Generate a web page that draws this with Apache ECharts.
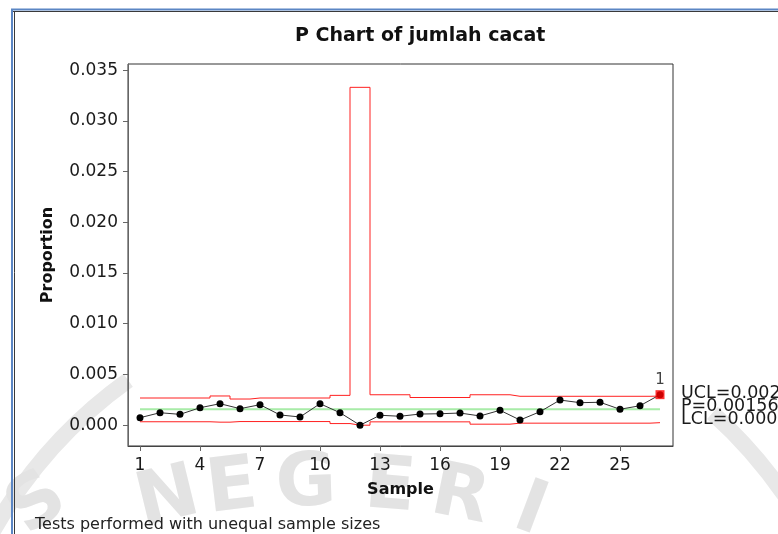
<!DOCTYPE html>
<html>
<head>
<meta charset="utf-8">
<script src="https://cdn.jsdelivr.net/npm/echarts@6/dist/echarts.min.js"></script>
<style>
  html, body { margin: 0; padding: 0; background: #ffffff; }
  #chart { width: 778px; height: 534px; }
</style>
</head>
<body>
<div id="chart"></div>
<script>
// Sample numbers and the defect proportion of each sample
const samples = [1, 2, 3, 4, 5, 6, 7, 8, 9, 10, 11, 12, 13, 14, 15, 16, 17, 18, 19, 20, 21, 22, 23, 24, 25, 26, 27];
const proportions = [0.00074, 0.00123, 0.00107, 0.00172, 0.00212, 0.00163, 0.00202, 0.00101, 0.00081, 0.00212,
                     0.00123, 0.00000, 0.00098, 0.00088, 0.00110, 0.00113, 0.00120, 0.00091, 0.00147, 0.00051,
                     0.00133, 0.00248, 0.00222, 0.00226, 0.00157, 0.00192, 0.00301];

// Control limits vary with the sample size of each subgroup
const ucl = [0.00268, 0.00268, 0.00268, 0.00268, 0.00288, 0.00258, 0.00268, 0.00268, 0.00268, 0.00268,
             0.00294, 0.03330, 0.00300, 0.00300, 0.00273, 0.00273, 0.00273, 0.00300, 0.00300, 0.00285,
             0.00285, 0.00285, 0.00285, 0.00285, 0.00285, 0.00285, 0.00287];
const lcl = [0.00034, 0.00034, 0.00034, 0.00034, 0.00030, 0.00036, 0.00036, 0.00036, 0.00036, 0.00036,
             0.00016, 0.00000, 0.00033, 0.00033, 0.00033, 0.00033, 0.00033, 0.00010, 0.00010, 0.00020,
             0.00020, 0.00020, 0.00020, 0.00020, 0.00020, 0.00020, 0.00025];
const pBar = 0.00156;

// Samples that failed a test, with the test number shown above them
const failedSamples = [27];
const failedTest = '1';

// Axis tick values
const yTicks = [0, 0.005, 0.010, 0.015, 0.020, 0.025, 0.030, 0.035];
const xTicks = [1, 4, 7, 10, 13, 16, 19, 22, 25];

const FONT = 'DejaVu Sans';
const last = samples.length - 1;
const pairs = (ys) => samples.map((s, i) => [s, ys[i]]);

const chart = echarts.init(document.getElementById('chart'), null, { renderer: 'canvas' });

const endLabel = (text) => ({
  show: true,
  formatter: text,
  distance: 21,
  offset: [0, -3],
  color: '#1a1a1a',
  fontFamily: FONT,
  fontSize: 17.5
});

// Faint seal printed behind the page
const SEAL = '#e3e3e3';
const sealLetters = [
  { t: 'S', x: 38, y: 505, r: 0.62 },
  { t: 'N', x: 168, y: 500, r: 0.24 },
  { t: 'E', x: 232, y: 490, r: 0.12 },
  { t: 'G', x: 306, y: 486, r: 0.03 },
  { t: 'E', x: 390, y: 489, r: -0.08 },
  { t: 'R', x: 460, y: 498, r: -0.2 },
  { t: 'I', x: 530, y: 512, r: -0.36 }
];
const deg = Math.PI / 180;

const graphics = [
  { type: 'arc', z: -10, shape: { cx: 400, cy: 760, r: 467, startAngle: 208.9 * deg, endAngle: 234.4 * deg },
    style: { stroke: '#e8e8e8', lineWidth: 16, fill: null } },
  { type: 'arc', z: -10, shape: { cx: 400, cy: 760, r: 467, startAngle: 312 * deg, endAngle: 330 * deg },
    style: { stroke: '#e8e8e8', lineWidth: 16, fill: null } },
  ...sealLetters.map(l => ({
    type: 'text', z: -10, x: l.x, y: l.y, rotation: l.r,
    style: { text: l.t, fill: SEAL, font: 'bold 74px ' + FONT, align: 'center', verticalAlign: 'middle' }
  })),
  // window frame
  { type: 'line', shape: { x1: 11, y1: 9.5, x2: 778, y2: 9.5 }, style: { stroke: '#5b86c4', lineWidth: 2 } },
  { type: 'line', shape: { x1: 12, y1: 11.5, x2: 778, y2: 11.5 }, style: { stroke: '#3a3a3a', lineWidth: 1 } },
  { type: 'line', shape: { x1: 12, y1: 9, x2: 12, y2: 534 }, style: { stroke: '#5b86c4', lineWidth: 2 } },
  { type: 'line', shape: { x1: 14.5, y1: 11, x2: 14.5, y2: 534 }, style: { stroke: '#3a3a3a', lineWidth: 1 } }
];

chart.setOption({
  backgroundColor: '#ffffff',
  animation: false,
  title: [
    {
      text: 'P Chart of jumlah cacat',
      left: 290, top: 22,
      textStyle: { fontFamily: FONT, fontSize: 19, fontWeight: 'bold', color: '#111' }
    },
    {
      text: 'Tests performed with unequal sample sizes',
      left: 30, top: 512,
      textStyle: { fontFamily: FONT, fontSize: 16, fontWeight: 'normal', color: '#222' }
    }
  ],
  graphic: graphics,
  grid: {
    left: 128, right: 105, top: 64, bottom: 88,
    show: true, borderColor: '#333', borderWidth: 1, backgroundColor: 'transparent'
  },
  xAxis: {
    type: 'value', min: 0.4, max: 27.65,
    name: 'Sample', nameLocation: 'middle', nameGap: 36,
    nameTextStyle: { fontFamily: FONT, fontSize: 16, fontWeight: 'bold', color: '#111' },
    splitLine: { show: false },
    axisLine: { show: true, onZero: false, lineStyle: { color: '#444', width: 1 } },
    axisTick: { show: true, customValues: xTicks, length: 5, lineStyle: { color: '#666', width: 1 } },
    axisLabel: { customValues: xTicks, formatter: v => String(v), margin: 11,
                 fontFamily: FONT, fontSize: 17, color: '#1a1a1a' }
  },
  yAxis: {
    type: 'value', min: -0.00205, max: 0.0356,
    name: 'Proportion', nameLocation: 'middle', nameGap: 72,
    nameTextStyle: { fontFamily: FONT, fontSize: 16, fontWeight: 'bold', color: '#111' },
    splitLine: { show: false },
    axisLine: { show: true, onZero: false, lineStyle: { color: '#666', width: 1 } },
    axisTick: { show: true, customValues: yTicks, length: 5, lineStyle: { color: '#666', width: 1 } },
    axisLabel: { customValues: yTicks, formatter: v => v.toFixed(3), margin: 10,
                 fontFamily: FONT, fontSize: 17, color: '#1a1a1a' }
  },
  series: [
    {
      name: 'UCL', type: 'line', step: 'middle', data: pairs(ucl), symbol: 'none', z: 2,
      lineStyle: { color: '#ff2020', width: 1 },
      endLabel: endLabel('UCL=' + ucl[last].toFixed(5))
    },
    {
      name: 'P', type: 'line', data: samples.map(s => [s, pBar]), symbol: 'none', z: 1,
      lineStyle: { color: '#a8eca8', width: 2 },
      endLabel: endLabel('P=' + pBar.toFixed(5))
    },
    {
      name: 'LCL', type: 'line', step: 'middle', data: pairs(lcl), symbol: 'none', z: 2,
      lineStyle: { color: '#ff2020', width: 1 },
      endLabel: endLabel('LCL=' + lcl[last].toFixed(5))
    },
    {
      name: 'Proportion', type: 'line', data: pairs(proportions), z: 3,
      symbol: 'circle', symbolSize: 7,
      itemStyle: { color: '#000' },
      lineStyle: { color: '#333', width: 1 }
    },
    {
      name: 'Failed', type: 'scatter', z: 4,
      data: failedSamples.map(s => [s, proportions[samples.indexOf(s)]]),
      symbol: 'rect', symbolSize: 9,
      itemStyle: { color: '#ff0000' },
      label: { show: true, position: 'top', distance: 3, formatter: failedTest,
               fontFamily: FONT, fontSize: 15, color: '#111' }
    }
  ]
});
</script>
</body>
</html>
